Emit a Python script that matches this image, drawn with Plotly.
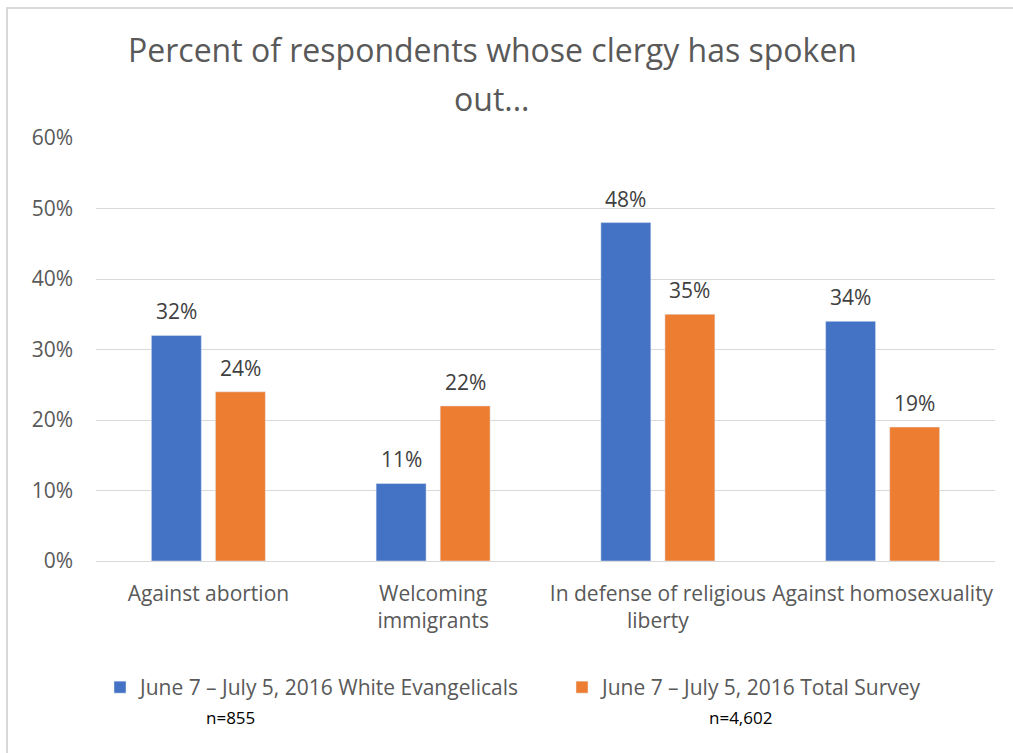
import plotly.graph_objects as go

# Survey categories and results (percent of respondents)
categories = ["Against abortion", "Welcoming<br>immigrants",
              "In defense of religious<br>liberty", "Against homosexuality"]
white_evangelicals = [32, 11, 48, 34]
total_survey = [24, 22, 35, 19]
series_names = ["June 7 \u2013 July 5, 2016 White Evangelicals",
                "June 7 \u2013 July 5, 2016 Total Survey"]
sample_sizes = ["n=855", "n=4,602"]
y_ticks = [0, 10, 20, 30, 40, 50, 60]
y_tick_labels = [f"{v}%" for v in y_ticks]

FONT = "Open Sans"
GREY = "#595959"
W, H = 1013, 753
ML, MR, MT, MB = 96, 18, 138, 192
PW, PH = W - ML - MR, H - MT - MB


def px_x(px):
    return (px - ML) / PW


def px_y(py):
    return (H - MB - py) / PH


fig = go.Figure()
fig.add_trace(go.Bar(
    x=categories, y=white_evangelicals, name=series_names[0],
    marker_color="#4472C4", legend="legend",
))
fig.add_trace(go.Bar(
    x=categories, y=total_survey, name=series_names[1],
    marker_color="#ED7D31", legend="legend2",
))

# Value labels above each bar
for values, shift in [(white_evangelicals, -32), (total_survey, 32)]:
    for cat, v in zip(categories, values):
        fig.add_annotation(x=cat, y=v, text=f"{v}%", showarrow=False,
                           xshift=shift, yshift=24, yanchor="middle",
                           font=dict(family=FONT, size=21, color="#404040"))

legend_font = dict(family=FONT, size=21, color=GREY)
fig.update_layout(
    width=W, height=H,
    margin=dict(l=ML, r=MR, t=MT, b=MB),
    paper_bgcolor="white", plot_bgcolor="white",
    font=dict(family=FONT, color=GREY),
    barmode="group", bargap=0.43, bargroupgap=0.22,
    showlegend=True,
    legend=dict(
        orientation="h", x=px_x(100), y=px_y(667), xanchor="left", yanchor="top",
        itemwidth=30, font=legend_font, bgcolor="rgba(0,0,0,0)",
    ),
    legend2=dict(
        orientation="h", x=px_x(562), y=px_y(667), xanchor="left", yanchor="top",
        itemwidth=30, font=legend_font, bgcolor="rgba(0,0,0,0)",
    ),
    xaxis=dict(
        tickfont=dict(family=FONT, size=21, color=GREY),
        showline=False, ticks="", showgrid=False, ticklabelstandoff=18,
    ),
    yaxis=dict(
        range=[0, 60], tickvals=y_ticks, ticktext=y_tick_labels,
        tickfont=dict(family=FONT, size=21, color=GREY),
        showgrid=True, gridcolor="#d9d9d9", gridwidth=1,
        zeroline=True, zerolinecolor="#d9d9d9", zerolinewidth=1,
        ticks="", ticklen=0, showline=False, ticklabelstandoff=22,
    ),
)

# Title lines
fig.add_annotation(text="Percent of respondents whose clergy has spoken",
                   xref="paper", yref="paper", x=px_x(492), y=px_y(50),
                   xanchor="center", yanchor="middle", showarrow=False,
                   font=dict(family=FONT, size=32, color=GREY))
fig.add_annotation(text="out...",
                   xref="paper", yref="paper", x=px_x(492), y=px_y(98),
                   xanchor="center", yanchor="middle", showarrow=False,
                   font=dict(family=FONT, size=32, color=GREY))

# Sample size notes under the legend
for label, cx in zip(sample_sizes, [230, 740]):
    fig.add_annotation(text=label, xref="paper", yref="paper",
                       x=px_x(cx), y=px_y(717), xanchor="center", yanchor="middle",
                       showarrow=False, font=dict(family=FONT, size=17, color="#000000"))

# Chart frame
fig.add_shape(type="rect", xref="paper", yref="paper",
              x0=px_x(7), x1=px_x(1030), y0=px_y(770), y1=px_y(8),
              line=dict(color="#d9d9d9", width=2), fillcolor="rgba(0,0,0,0)", layer="below")

fig.write_html("out.html")
